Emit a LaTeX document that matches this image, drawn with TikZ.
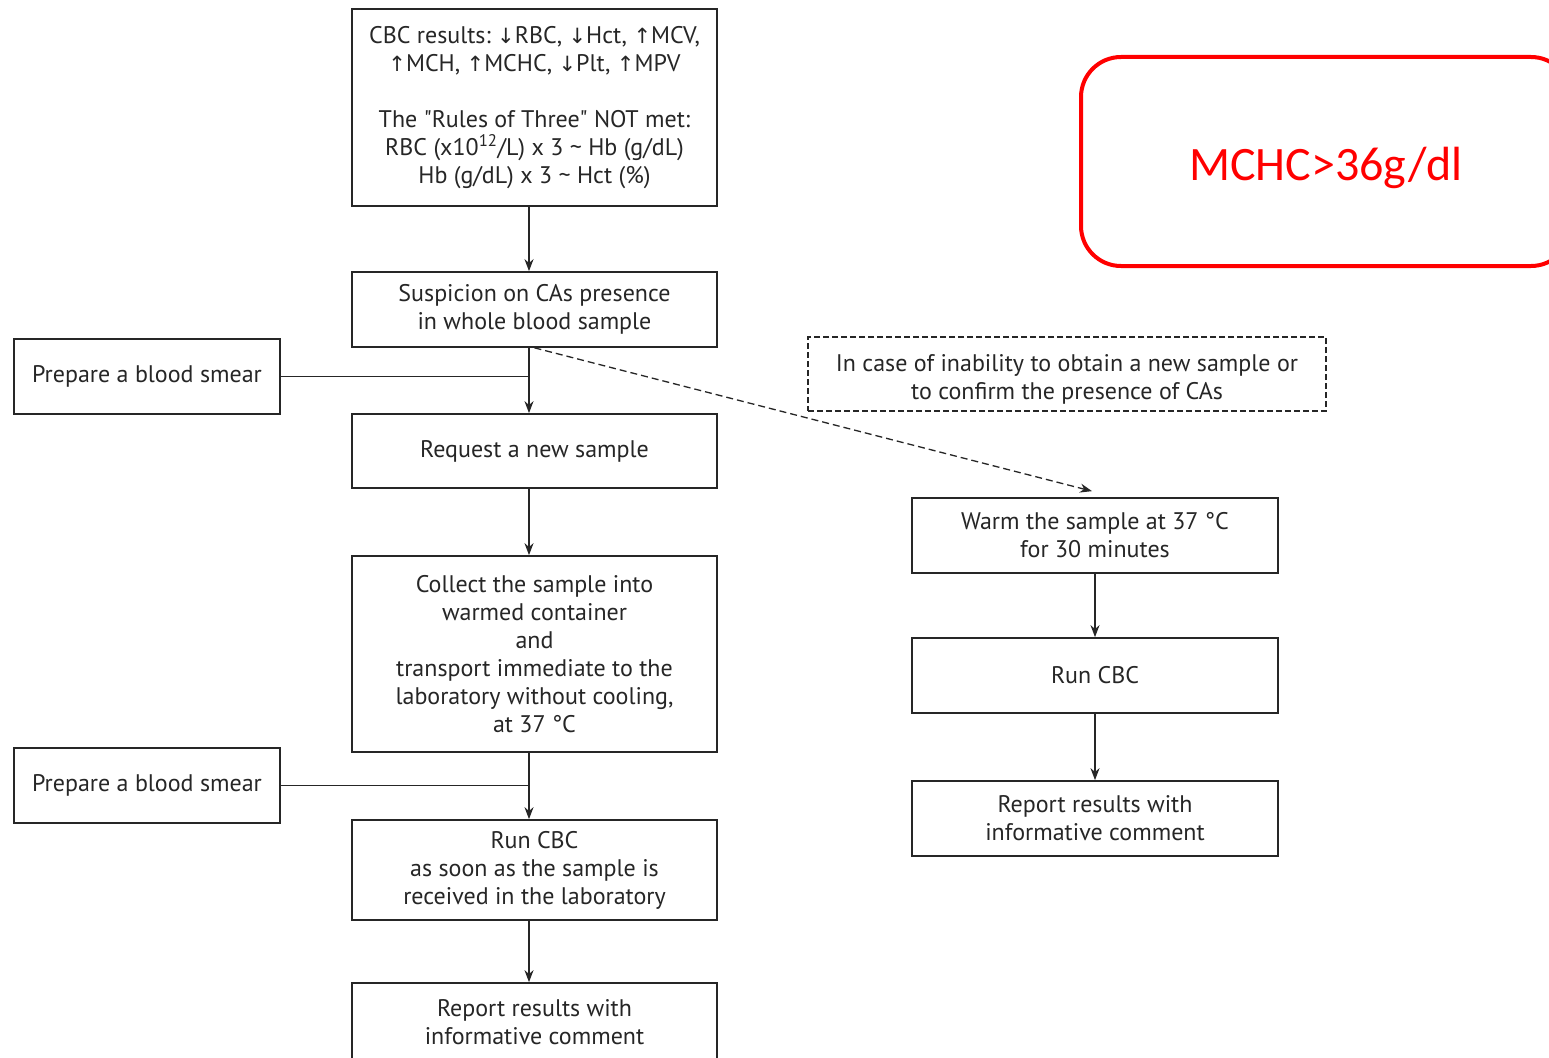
\documentclass[tikz,border=0pt]{standalone}
\usepackage{fontspec}
\setmainfont{PT Sans}[Ligatures=TeXOff]
\newfontfamily\arrfont{DejaVu Sans}
\newfontfamily\calfont{Carlito}
\usetikzlibrary{arrows.meta}
\newcommand\mainsz{\fontsize{24}{28}\selectfont}
\newcommand\up{{\arrfont\fontsize{21}{28}\selectfont ↑}}
\newcommand\dn{{\arrfont\fontsize{21}{28}\selectfont ↓}}
\tikzset{
  box/.style={draw=black!85, line width=1.7pt, minimum width=365pt, align=center, font=\mainsz, inner sep=0pt, text=black!85},
  sidebox/.style={box, minimum width=266pt, minimum height=75pt},
  rbox/.style={box, minimum width=366pt, minimum height=75pt},
  txt/.style={align=center, font=\mainsz, inner sep=0pt, text=black!85},
  arr/.style={line width=1.7pt, draw=black!85, -{Stealth[length=12pt,width=9pt]}},
  ln/.style={line width=1.4pt, draw=black!85},
}
\begin{document}
\begin{tikzpicture}[x=1pt,y=-1pt]
\useasboundingbox (0,0) rectangle (1549,1057);
\clip (0,0) rectangle (1549,1057);
\fill[white] (0,0) rectangle (1549,1057);

\node[box, minimum height=197pt] (A) at (534.5,107.5) {CBC results:~\dn RBC, \dn Hct, \up MCV,\\ \up MCH, \up MCHC, \dn Plt, \up MPV\\[28pt] The "Rules of Three" NOT met:\\ RBC (x10\textsuperscript{12}/L) x 3 \textasciitilde{} Hb (g/dL)\\ Hb (g/dL) x 3 \textasciitilde{} Hct (\%)};
\node[box, minimum height=75pt] (B) at (534.5,309.5) {Suspicion on CAs presence\\ in whole blood sample};
\node[box, minimum height=74pt] (C) at (534.5,451) {Request a new sample};
\node[box, minimum height=196pt] (D) at (534.5,654) {Collect the sample into\\ warmed container\\ and\\ transport immediate to the\\ laboratory without cooling,\\ at 37 °C};
\node[box, minimum height=100pt] (E) at (534.5,870) {Run CBC\\ as soon as the sample is\\ received in the laboratory};
\node[box, minimum height=78pt] (F) at (534.5,1022) {Report results with\\ informative comment};

\node[sidebox] (S1) at (147,376.5) {Prepare a blood smear};
\node[sidebox] (S2) at (147,785.5) {Prepare a blood smear};

\node[box, dash pattern=on 6pt off 3pt, minimum width=518pt, minimum height=74pt] (N) at (1067,374) {};
\node[txt] (Nt) at ([yshift=-5pt]N.center) {In case of inability to obtain a new sample or\\ to confirm the presence of CAs};

\node[rbox] (W) at (1095,535.5) {Warm the sample at 37 °C\\ for 30 minutes};
\node[rbox] (R) at (1095,675.5) {Run CBC};
\node[rbox] (P) at (1095,818.5) {Report results with\\ informative comment};

\node[draw=red, line width=4pt, rounded corners=40pt, minimum width=490pt, minimum height=209pt, inner sep=0pt] (M) at (1326,161.5) {};
\node[inner sep=0pt, text=red, font=\calfont\fontsize{48}{58}\selectfont] (Mt) at ([yshift=-6pt]M.center) {MCHC>36g/dl};

\draw[arr] ([xshift=-5.5pt]A.south) -- ([xshift=-5.5pt]B.north);
\draw[arr] ([xshift=-5.5pt]B.south) -- ([xshift=-5.5pt]C.north);
\draw[arr] ([xshift=-5.5pt]C.south) -- ([xshift=-5.5pt]D.north);
\draw[arr] ([xshift=-5.5pt]D.south) -- ([xshift=-5.5pt]E.north);
\draw[arr] ([xshift=-5.5pt]E.south) -- ([xshift=-5.5pt]F.north);
\draw[ln] (S1.east) -- (S1.east -| 529,0);
\draw[ln] (S2.east) -- (S2.east -| 529,0);
\draw[arr, dash pattern=on 7pt off 4pt, line width=1.3pt] (B.south) -- ([xshift=-3pt,yshift=6pt]W.north);
\draw[arr] (W.south) -- (R.north);
\draw[arr] (R.south) -- (P.north);
\end{tikzpicture}
\end{document}
